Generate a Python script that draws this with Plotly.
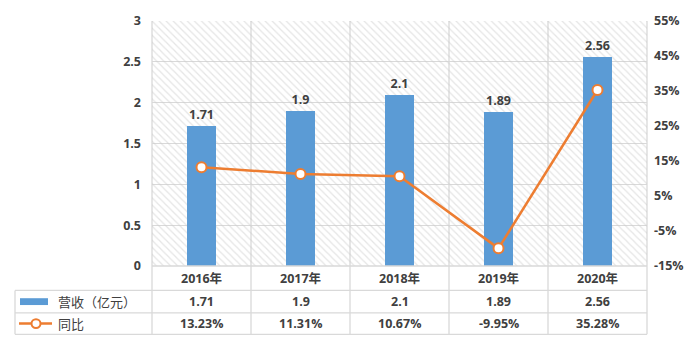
import plotly.graph_objects as go

categories = ["2016年", "2017年", "2018年", "2019年", "2020年"]
revenue = [1.71, 1.9, 2.1, 1.89, 2.56]
yoy = [13.23, 11.31, 10.67, -9.95, 35.28]
revenue_labels = ["1.71", "1.9", "2.1", "1.89", "2.56"]
yoy_labels = ["13.23%", "11.31%", "10.67%", "-9.95%", "35.28%"]
series_names = ["营收（亿元）", "同比"]
right_ticks = [-15, -5, 5, 15, 25, 35, 45, 55]
right_tick_labels = ["-15%", "-5%", "5%", "15%", "25%", "35%", "45%", "55%"]

W, H = 699, 352
L, R, T, B = 152, 52, 15, 86
PW, PH = W - L - R, H - T - B

def px(x):
    return (x - L) / PW

def py(y):
    return (H - B - y) / PH

BLUE = "#5B9BD5"
ORANGE = "#ED7D31"
GRID = "#D9D9D9"
TXT = "#404040"
FONT = "Open Sans, Noto Sans CJK SC, sans-serif"
CJK = "Noto Sans CJK SC, sans-serif"

fig = go.Figure()
# hatched plot background
fig.add_trace(go.Bar(
    x=categories, y=[3] * len(categories), width=1,
    marker=dict(color="rgba(0,0,0,0)", line=dict(width=0),
                pattern=dict(shape="\\", fgcolor="#CCCCCC", bgcolor="rgba(0,0,0,0)",
                             size=5, solidity=0.25)),
    hoverinfo="skip", showlegend=False))
fig.add_trace(go.Bar(
    x=categories, y=revenue, width=0.3, name=series_names[0],
    marker=dict(color=BLUE, line=dict(width=0)),
    text=["<b>%s</b>" % t for t in revenue_labels], textposition="outside", cliponaxis=False,
    textfont=dict(family=FONT, size=12.5, color=TXT),
    showlegend=False))
fig.add_trace(go.Scatter(
    x=categories, y=yoy, yaxis="y2", name=series_names[1], mode="lines+markers",
    line=dict(color=ORANGE, width=2.5),
    marker=dict(size=10, color="white", line=dict(color=ORANGE, width=2)),
    showlegend=False))

shapes = []
for i in range(len(categories) + 1):
    xp = i / len(categories)
    shapes.append(dict(type="line", xref="paper", yref="paper", x0=xp, x1=xp,
                       y0=py(336), y1=1, line=dict(color=GRID, width=1.3), layer="below"))
shapes.append(dict(type="line", xref="paper", yref="paper", x0=px(15), x1=px(15),
                   y0=py(336), y1=py(291), line=dict(color=GRID, width=1.3)))
shapes.append(dict(type="line", xref="paper", yref="paper", x0=0, x1=1,
                   y0=py(266), y1=py(266), line=dict(color=GRID, width=1.3)))
for yy in [291, 314, 336]:
    shapes.append(dict(type="line", xref="paper", yref="paper", x0=px(15), x1=1,
                       y0=py(yy), y1=py(yy), line=dict(color=GRID, width=1.3)))
shapes.append(dict(type="rect", xref="paper", yref="paper", x0=px(20), x1=px(48),
                   y0=py(306), y1=py(299), fillcolor=BLUE, line=dict(width=0)))
shapes.append(dict(type="line", xref="paper", yref="paper", x0=px(19), x1=px(52),
                   y0=py(325), y1=py(325), line=dict(color=ORANGE, width=2.5)))
shapes.append(dict(type="circle", xref="paper", yref="paper", x0=px(31.5), x1=px(40.5),
                   y0=py(329.5), y1=py(320.5), fillcolor="white",
                   line=dict(color=ORANGE, width=2)))

ann = []
n = len(categories)
bf = dict(family=FONT, size=12.5, color=TXT)
for i, c in enumerate(categories):
    xc = (i + 0.5) / n
    for yy, t in [(279, c), (302.5, revenue_labels[i]), (325, yoy_labels[i])]:
        ann.append(dict(x=xc, y=py(yy), xref="paper", yref="paper", text="<b>%s</b>" % t,
                        xanchor="center", yanchor="middle", showarrow=False, font=bf))
for yy, t in [(302.5, series_names[0]), (325, series_names[1])]:
    ann.append(dict(x=px(56), y=py(yy), xref="paper", yref="paper", text=t,
                    xanchor="left", yanchor="middle", showarrow=False,
                    font=dict(family=CJK, size=13, color=TXT)))

fig.update_layout(
    width=W, height=H, margin=dict(l=L, r=R, t=T, b=B),
    paper_bgcolor="white", plot_bgcolor="white",
    barmode="overlay", bargap=0,
    shapes=shapes, annotations=ann,
    xaxis=dict(type="category", range=[-0.5, 4.5], showticklabels=False, showgrid=False,
               zeroline=False, showline=False, fixedrange=True),
    yaxis=dict(range=[0, 3], dtick=0.5, showgrid=True, gridcolor=GRID, gridwidth=1.3,
               zeroline=False, showline=False, ticks="", ticklabelstandoff=10,
               tickfont=dict(family=FONT, size=12.5, color=TXT, weight=700)),
    yaxis2=dict(range=[-15, 55], tickmode="array", tickvals=right_ticks,
                ticktext=right_tick_labels, overlaying="y", side="right",
                showgrid=False, zeroline=False, showline=False, ticks="",
                ticklabelstandoff=6,
                tickfont=dict(family=FONT, size=12.5, color=TXT, weight=700)),
)

fig.write_html("out.html")
